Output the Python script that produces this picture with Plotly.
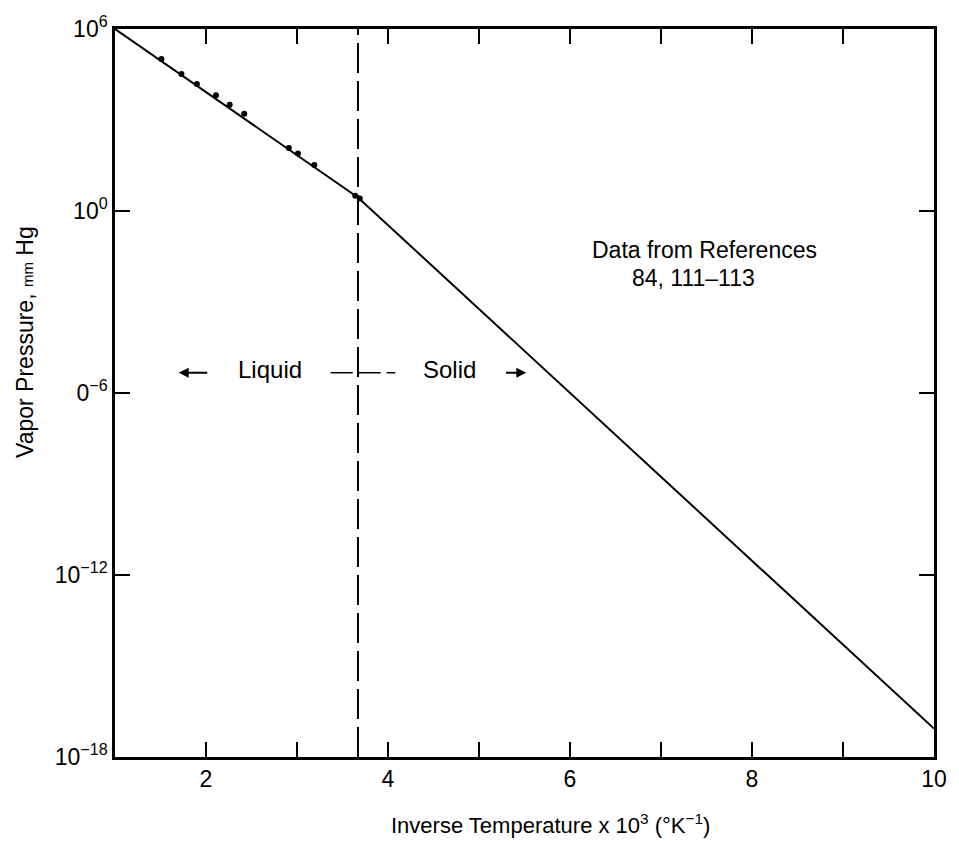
import plotly.graph_objects as go

# Measured data points (liquid region)
point_x = [1.51, 1.73, 1.90, 2.11, 2.26, 2.42, 2.91, 3.01, 3.19, 3.64, 3.69]
point_p = [1.02e5, 3.3e4, 1.55e4, 6.5e3, 3.2e3, 1.6e3, 1.2e2, 79, 33, 3.2, 2.6]

# Fitted vapor-pressure curve (liquid then solid branch)
curve_x = [1.0, 3.67, 10.0]
curve_p = [1.0e6, 2.8, 8.7e-18]

# Liquid/solid transition
transition_x = 3.67
phase_label_logp = -5.33
liquid_arrow_x = [2.03, 1.70]   # tail, head
solid_arrow_x = [5.28, 5.52]    # tail, head

x_tickvals = [2, 4, 6, 8, 10]
x_ticktext = ["2", "4", "6", "8", "10"]
y_tickvals = [1e-18, 1e-12, 1e-6, 1e0, 1e6]
y_ticktext = ["10<sup>−18</sup>", "10<sup>−12</sup>", "0<sup>−6</sup>", "10<sup>0</sup>", "10<sup>6</sup>"]

FONT = "Liberation Sans, Arial, sans-serif"

fig = go.Figure()
fig.add_trace(go.Scatter(x=curve_x, y=curve_p, mode="lines",
                         line=dict(color="black", width=2), showlegend=False))
fig.add_trace(go.Scatter(x=point_x, y=point_p, mode="markers",
                         marker=dict(color="black", size=6), showlegend=False))

# dashed vertical transition line
fig.add_shape(type="line", xref="x", yref="paper", x0=transition_x, x1=transition_x,
              y0=0, y1=1, line=dict(color="black", width=2, dash="30px,8px"))
# short horizontal dashed segment across the transition
fig.add_shape(type="line", xref="x", yref="y", x0=3.37, x1=4.08,
              y0=10 ** phase_label_logp, y1=10 ** phase_label_logp,
              line=dict(color="black", width=1.5, dash="22px,6px"))

ann = []
ann.append(dict(x=2.70, y=-5.22, text="Liquid", showarrow=False, yanchor="middle",
                font=dict(size=24, family=FONT, color="black")))
ann.append(dict(x=4.68, y=-5.22, text="Solid", showarrow=False, yanchor="middle",
                font=dict(size=24, family=FONT, color="black")))
for ax_x in (liquid_arrow_x, solid_arrow_x):
    ann.append(dict(x=ax_x[1], y=phase_label_logp, ax=ax_x[0], ay=phase_label_logp,
                    axref="x", ayref="y", text="", showarrow=True, arrowhead=2,
                    arrowsize=1, arrowwidth=2, arrowcolor="black"))
ann.append(dict(x=7.48, y=-1.28, text="Data from References", showarrow=False, yanchor="middle",
                font=dict(size=23, family=FONT, color="black")))
ann.append(dict(x=7.36, y=-2.22, text="84, 111–113", showarrow=False, yanchor="middle",
                font=dict(size=23, family=FONT, color="black")))
# axis titles
ann.append(dict(xref="paper", yref="paper", x=-0.110, y=0.570, textangle=-90,
                xanchor="center", yanchor="middle",
                text="Vapor Pressure, <span style='font-size:15px'>mm</span> Hg",
                showarrow=False, font=dict(size=23, family=FONT, color="black")))
ann.append(dict(xref="paper", yref="paper", x=0.532, y=-0.0925,
                xanchor="center", yanchor="middle",
                text="Inverse Temperature x 10<sup>3</sup> (°K<sup>−1</sup>)",
                showarrow=False, font=dict(size=22, family=FONT, color="black")))

fig.update_layout(
    width=959, height=841,
    margin=dict(l=115, r=18, t=22, b=84),
    paper_bgcolor="white", plot_bgcolor="white",
    annotations=ann,
    font=dict(family=FONT, color="black", size=23),
)
fig.update_xaxes(range=[1, 10], tickvals=x_tickvals, ticktext=x_ticktext,
                 ticks="inside", ticklen=15, tickwidth=2, tickcolor="black",
                 minor=dict(dtick=1, tick0=1, ticks="inside", ticklen=15, tickwidth=2,
                            tickcolor="black", showgrid=False),
                 showline=True, linewidth=2.5, linecolor="black", mirror="allticks",
                 showgrid=False, zeroline=False, tickfont=dict(size=23))
fig.update_yaxes(type="log", range=[-18, 6], tickvals=y_tickvals, ticktext=y_ticktext,
                 ticks="inside", ticklen=15, tickwidth=2, tickcolor="black",
                 showline=True, linewidth=2.5, linecolor="black", mirror="allticks",
                 showgrid=False, zeroline=False, tickfont=dict(size=23))

fig.write_html("out.html")
